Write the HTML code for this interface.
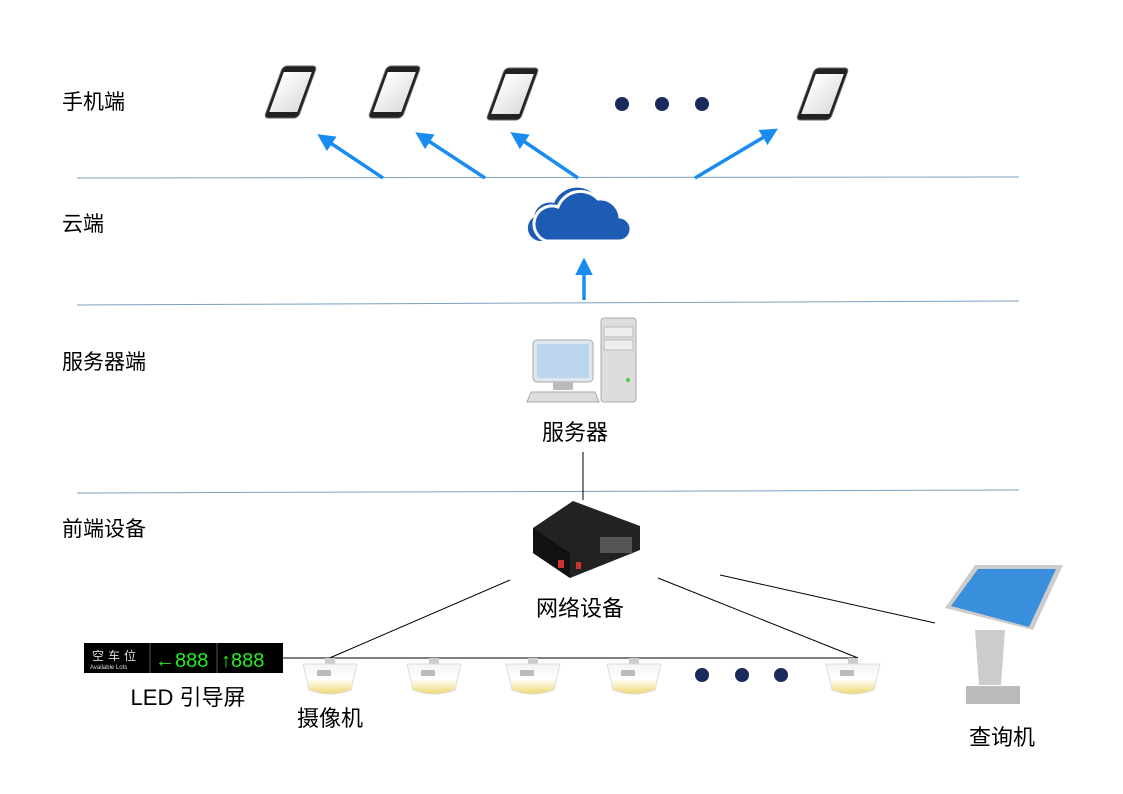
<!DOCTYPE html>
<html><head><meta charset="utf-8"><style>
body{margin:0;background:#fff}
svg{display:block;font-family:"Liberation Sans","Noto Sans CJK SC",sans-serif}
</style></head><body>
<svg width="1123" height="794" viewBox="0 0 1123 794">
<defs>
<marker id="ah" markerWidth="5" markerHeight="5" refX="2" refY="2.5" orient="auto"><path d="M0,0L5,2.5L0,5z" fill="#1a8cf0"/></marker>
<linearGradient id="scr" x1="0" y1="0" x2="1" y2="1"><stop offset="0" stop-color="#fff"/><stop offset="1" stop-color="#ddd"/></linearGradient>
<linearGradient id="cam" x1="0" y1="0" x2="0" y2="1"><stop offset="0" stop-color="#f4f4f4"/><stop offset="0.5" stop-color="#fff"/><stop offset="1" stop-color="#f0d870"/></linearGradient>
<g id="phone"><rect x="0" y="0" width="34" height="52" rx="4" fill="#222" stroke="#666" transform="skewX(-20)"/><rect x="3" y="6" width="28" height="40" fill="url(#scr)" transform="skewX(-20)"/></g>
<g id="camera"><rect x="22" y="0" width="10" height="6" fill="#ccc"/><path d="M0,6h54l-6,26q-21,8-42,0z" fill="url(#cam)" stroke="#ddd"/><rect x="14" y="12" width="14" height="6" fill="#bbb"/></g>
</defs>
<g stroke="#7aa0c0" stroke-width="1">
<line x1="77" y1="178" x2="1019" y2="177"/>
<line x1="77" y1="305" x2="1019" y2="301"/>
<line x1="77" y1="493" x2="1019" y2="490"/>
</g>
<g font-size="21" fill="#000">
<text x="62" y="109">手机端</text><text x="62" y="231">云端</text>
<text x="62" y="369">服务器端</text><text x="62" y="536">前端设备</text>
</g>
<g transform="translate(283,66)"><use href="#phone"/></g>
<g transform="translate(387,66)"><use href="#phone"/></g>
<g transform="translate(505,68)"><use href="#phone"/></g>
<g transform="translate(815,68)"><use href="#phone"/></g>
<g fill="#1a2a5a"><circle cx="622" cy="104" r="7"/><circle cx="662" cy="104" r="7"/><circle cx="702" cy="104" r="7"/>
<circle cx="702" cy="675" r="7"/><circle cx="742" cy="675" r="7"/><circle cx="781" cy="675" r="7"/></g>
<g stroke="#1a8cf0" stroke-width="3.5" marker-end="url(#ah)">
<line x1="383" y1="178" x2="326" y2="140"/><line x1="485" y1="178" x2="424" y2="138"/>
<line x1="578" y1="178" x2="519" y2="138"/><line x1="695" y1="178" x2="769" y2="134"/>
<line x1="584" y1="300" x2="584" y2="268"/></g>
<path d="M540,241h78a12,12 0 0 0 2,-24a20,20 0 0 0 -22,-18a25,25 0 0 0 -44,4a16,16 0 0 0 -20,14a13,13 0 0 0 6,24z" fill="#1e5bb5"/>
<path d="M552,241h66a12,12 0 0 0 2,-24a20,20 0 0 0 -22,-18a24,24 0 0 0 -40,8a16,16 0 0 0 -12,34z" fill="#1e5bb5" stroke="#fff" stroke-width="3"/>
<rect x="533" y="340" width="60" height="42" rx="4" fill="#dfe7ee" stroke="#aaa"/><rect x="537" y="344" width="52" height="34" fill="#bcd6ee"/>
<rect x="553" y="382" width="20" height="8" fill="#bbb"/><path d="M531,392h64l4,10h-72z" fill="#ddd" stroke="#aaa"/>
<rect x="601" y="318" width="35" height="84" rx="3" fill="#ddd" stroke="#aaa"/><rect x="604" y="327" width="29" height="10" fill="#eee" stroke="#bbb"/><rect x="604" y="340" width="29" height="10" fill="#eee" stroke="#bbb"/><circle cx="628" cy="380" r="2" fill="#4c4"/>
<text x="575" y="440" font-size="22" text-anchor="middle">服务器</text>
<line x1="583" y1="452" x2="583" y2="500" stroke="#000"/>
<path d="M533,528l40,-27l67,25v24l-70,28l-37,-25z" fill="#222"/><path d="M533,528l37,25v25l-37,-25z" fill="#111"/>
<rect x="600" y="537" width="32" height="16" fill="#555"/><rect x="558" y="560" width="6" height="8" fill="#c33"/><rect x="576" y="562" width="5" height="7" fill="#c33"/>
<text x="580" y="616" font-size="22" text-anchor="middle">网络设备</text>
<g stroke="#000"><line x1="510" y1="580" x2="325" y2="660"/><line x1="658" y1="578" x2="858" y2="658"/><line x1="720" y1="575" x2="935" y2="623"/><line x1="283" y1="658" x2="858" y2="658"/></g>
<rect x="84" y="643" width="199" height="30" fill="#000"/>
<line x1="150" y1="643" x2="150" y2="673" stroke="#555"/><line x1="217" y1="643" x2="217" y2="673" stroke="#555"/>
<text x="92" y="660" font-size="12" fill="#ddd" letter-spacing="4">空车位</text><text x="90" y="669" font-size="6" fill="#ddd">Available Lots</text>
<text x="155" y="667" font-size="20" fill="#2e2">←888</text><text x="221" y="667" font-size="20" fill="#2e2">↑888</text>
<text x="188" y="705" font-size="22" text-anchor="middle">LED  引导屏</text>
<use href="#camera" x="303" y="658"/><use href="#camera" x="407" y="658"/><use href="#camera" x="506" y="658"/><use href="#camera" x="607" y="658"/><use href="#camera" x="826" y="658"/>
<text x="330" y="726" font-size="22" text-anchor="middle">摄像机</text>
<path d="M945,608l30,-43h88l-30,65z" fill="#ccc"/><path d="M951,606l27,-37h78l-27,58z" fill="#3a8fdc"/>
<path d="M975,630h30l-4,55h-22z" fill="#ccc"/><rect x="966" y="686" width="54" height="18" fill="#bbb"/>
<text x="1002" y="745" font-size="22" text-anchor="middle">查询机</text>
</svg>
</body></html>
